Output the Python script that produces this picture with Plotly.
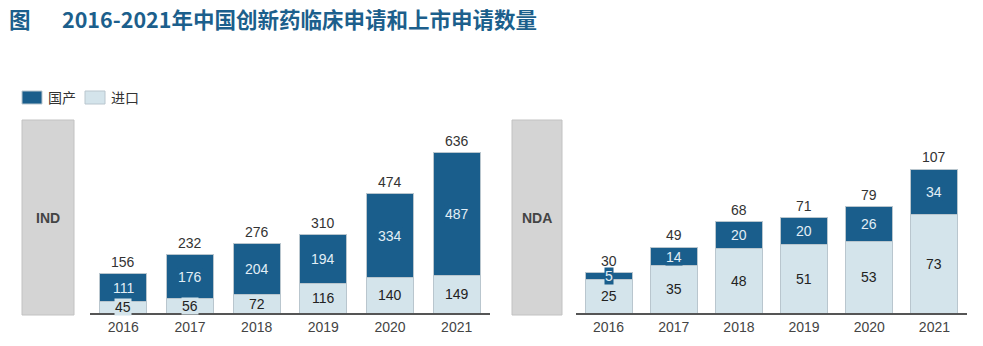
import plotly.graph_objects as go

years = ["2016", "2017", "2018", "2019", "2020", "2021"]
ind_domestic = [111, 176, 204, 194, 334, 487]
ind_import = [45, 56, 72, 116, 140, 149]
nda_domestic = [5, 14, 20, 20, 26, 34]
nda_import = [25, 35, 48, 51, 53, 73]

title_prefix = "图"
title_text = "2016-2021年中国创新药临床申请和上市申请数量"
legend_names = ["国产", "进口"]
panel_names = ["IND", "NDA"]

W, H = 983, 346
DARK = "#1a5e8c"
LIGHT = "#d4e4eb"
EDGE = "#b9c6ce"
TITLE_C = "#1c5f8c"
FONT = "Liberation Sans, Arial, sans-serif"
CJK = "Noto Sans CJK SC, sans-serif"


def px(x):
    return x / W


def py(y):
    return 1 - y / H


fig = go.Figure()

panels = [
    dict(dom=ind_domestic, imp=ind_import, xa="x", ya="y", width=0.705),
    dict(dom=nda_domestic, imp=nda_import, xa="x2", ya="y2", width=0.72),
]

annotations = []
for p in panels:
    fig.add_trace(go.Bar(x=years, y=p["imp"], name=legend_names[1], marker_color=LIGHT,
                         marker_line=dict(color=EDGE, width=1), width=p["width"],
                         xaxis=p["xa"], yaxis=p["ya"], showlegend=False, hoverinfo="skip"))
    fig.add_trace(go.Bar(x=years, y=p["dom"], name=legend_names[0], marker_color=DARK,
                         marker_line=dict(color=EDGE, width=1), width=p["width"],
                         xaxis=p["xa"], yaxis=p["ya"], showlegend=False, hoverinfo="skip"))
    for i, yr in enumerate(years):
        imp, dom = p["imp"][i], p["dom"][i]
        annotations.append(dict(x=i, y=imp / 2, xref=p["xa"], yref=p["ya"], text=str(imp),
                                showarrow=False, xanchor="center", yanchor="middle",
                                font=dict(family=FONT, size=14, color="#222222"),
                                bgcolor=LIGHT, borderpad=0))
        annotations.append(dict(x=i, y=imp + dom / 2, xref=p["xa"], yref=p["ya"], text=str(dom),
                                showarrow=False, xanchor="center", yanchor="middle",
                                font=dict(family=FONT, size=14, color="#e2eef6"),
                                bgcolor=DARK, borderpad=0))
        annotations.append(dict(x=i, y=imp + dom, xref=p["xa"], yref=p["ya"], text=str(imp + dom),
                                showarrow=False, xanchor="center", yanchor="bottom", yshift=2,
                                font=dict(family=FONT, size=14, color="#333333")))

shapes = []
# grey panel label boxes
for (x0, x1), name in zip([(22, 74), (512, 562)], panel_names):
    shapes.append(dict(type="rect", xref="paper", yref="paper", x0=px(x0), x1=px(x1),
                       y0=py(315), y1=py(120), fillcolor="#d4d4d4",
                       line=dict(color="#c2c2c2", width=1), layer="below"))
    annotations.append(dict(xref="paper", yref="paper", x=px((x0 + x1) / 2), y=py(218),
                            xanchor="center", yanchor="middle",
                            text=f"<b>{name}</b>", showarrow=False,
                            font=dict(family=FONT, size=14, color="#444444")))

# legend
for (x0, x1), col, name, tx in zip([(22, 42), (85, 105)], [DARK, LIGHT], legend_names, [46, 109]):
    shapes.append(dict(type="rect", xref="paper", yref="paper", x0=px(x0), x1=px(x1),
                       y0=py(104), y1=py(91), fillcolor=col,
                       line=dict(color=EDGE, width=1)))
    annotations.append(dict(xref="paper", yref="paper", x=px(tx), y=py(97.5),
                            xanchor="left", yanchor="middle",
                            text=name, showarrow=False,
                            font=dict(family=CJK, size=14, color="#333333")))

# title
annotations.append(dict(xref="paper", yref="paper", x=px(7), y=py(18),
                        xanchor="left", yanchor="middle",
                        text=f"<b>{title_prefix}</b>", showarrow=False,
                        font=dict(family=CJK, size=21.5, color=TITLE_C)))
annotations.append(dict(xref="paper", yref="paper", x=px(60), y=py(18),
                        xanchor="left", yanchor="middle",
                        text=f"<b>{title_text}</b>", showarrow=False,
                        font=dict(family=CJK, size=21.5, color=TITLE_C)))

axis_common = dict(type="category", showline=True, linecolor="#555555", linewidth=2,
                   ticks="", showgrid=False, zeroline=False,
                   tickfont=dict(family=FONT, size=14, color="#444444"), range=[-0.5, 5.5])
yaxis_common = dict(showgrid=False, zeroline=False, showticklabels=False, showline=False)

fig.update_layout(
    width=W, height=H, margin=dict(l=0, r=0, t=0, b=0),
    paper_bgcolor="white", plot_bgcolor="white",
    barmode="stack", showlegend=False,
    xaxis=dict(domain=[px(90), px(490)], anchor="y", **axis_common),
    xaxis2=dict(domain=[px(576), px(967)], anchor="y2", **axis_common),
    yaxis=dict(domain=[py(313), py(120)], range=[0, 767], anchor="x", **yaxis_common),
    yaxis2=dict(domain=[py(313), py(120)], range=[0, 143.5], anchor="x2", **yaxis_common),
    shapes=shapes, annotations=annotations,
)

fig.write_html("out.html")
